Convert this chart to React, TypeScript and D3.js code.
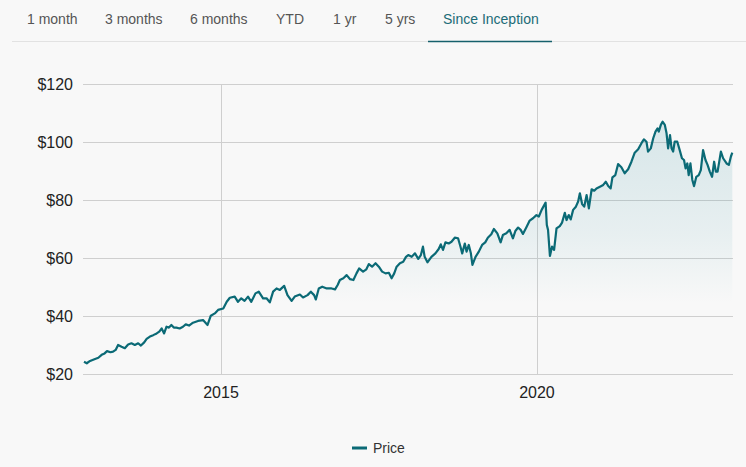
import { useEffect } from 'react'
import * as d3 from 'd3'

const W = 746
const H = 467

const tabs = ['1 month', '3 months', '6 months', 'YTD', '1 yr', '5 yrs', 'Since Inception']
const activeTab = 'Since Inception'

const yTicks = [20, 40, 60, 80, 100, 120]
const seriesName = 'Price'

const dates = [
  '2012-10-31', '2012-11-16', '2012-12-05', '2013-01-03', '2013-01-22', '2013-02-10', '2013-02-27', '2013-03-13',
  '2013-04-02', '2013-04-17', '2013-05-02', '2013-05-16', '2013-06-05', '2013-06-24', '2013-07-13', '2013-08-01',
  '2013-08-21', '2013-09-09', '2013-09-25', '2013-10-14', '2013-10-28', '2013-11-16', '2013-12-05', '2013-12-25',
  '2014-01-09', '2014-01-23', '2014-02-06', '2014-02-20', '2014-03-06', '2014-03-20', '2014-04-03', '2014-04-18',
  '2014-05-07', '2014-05-26', '2014-06-11', '2014-06-30', '2014-07-23', '2014-08-21', '2014-09-19', '2014-10-15',
  '2014-11-03', '2014-11-26', '2014-12-15', '2015-01-14', '2015-02-03', '2015-02-21', '2015-03-21', '2015-04-09',
  '2015-04-28', '2015-05-17', '2015-06-06', '2015-06-25', '2015-07-19', '2015-08-07', '2015-09-01', '2015-09-21',
  '2015-10-10', '2015-10-29', '2015-11-18', '2015-12-07', '2016-01-01', '2016-01-20', '2016-02-13', '2016-03-02',
  '2016-04-01', '2016-04-19', '2016-05-15', '2016-06-03', '2016-06-22', '2016-07-02', '2016-07-19', '2016-08-08',
  '2016-09-03', '2016-10-01', '2016-10-21', '2016-11-05', '2016-11-18', '2016-12-08', '2016-12-27', '2017-01-16',
  '2017-02-04', '2017-02-22', '2017-03-09', '2017-04-01', '2017-04-20', '2017-05-04', '2017-05-23', '2017-06-12',
  '2017-07-01', '2017-07-20', '2017-08-09', '2017-08-28', '2017-09-13', '2017-09-28', '2017-10-12', '2017-10-31',
  '2017-11-19', '2017-12-05', '2017-12-18', '2018-01-07', '2018-01-26', '2018-02-14', '2018-03-01', '2018-03-13',
  '2018-03-23', '2018-04-08', '2018-05-01', '2018-05-24', '2018-06-12', '2018-06-24', '2018-07-07', '2018-07-21',
  '2018-08-09', '2018-08-25', '2018-09-13', '2018-10-02', '2018-10-16', '2018-10-26', '2018-11-10', '2018-11-20',
  '2018-12-03', '2018-12-15', '2018-12-24', '2019-01-11', '2019-01-30', '2019-02-18', '2019-03-08', '2019-03-23',
  '2019-04-12', '2019-04-27', '2019-05-17', '2019-06-05', '2019-06-18', '2019-07-08', '2019-07-27', '2019-08-15',
  '2019-08-29', '2019-09-14', '2019-09-29', '2019-10-12', '2019-11-01', '2019-11-20', '2019-12-09', '2019-12-29',
  '2020-01-12', '2020-01-28', '2020-02-20', '2020-02-27', '2020-03-05', '2020-03-16', '2020-03-28', '2020-04-09',
  '2020-04-23', '2020-05-12', '2020-05-25', '2020-06-10', '2020-06-20', '2020-07-03', '2020-07-14', '2020-07-28',
  '2020-08-13', '2020-08-26', '2020-09-05', '2020-09-18', '2020-09-30', '2020-10-14', '2020-10-27', '2020-11-12',
  '2020-11-27', '2020-12-10', '2020-12-30', '2021-01-18', '2021-02-02', '2021-02-16', '2021-03-02', '2021-03-12',
  '2021-03-29', '2021-04-14', '2021-05-03', '2021-05-22', '2021-06-11', '2021-06-30', '2021-07-19', '2021-08-08',
  '2021-08-27', '2021-09-10', '2021-09-25', '2021-10-04', '2021-10-20', '2021-11-03', '2021-11-16', '2021-11-28',
  '2021-12-05', '2021-12-17', '2021-12-27', '2022-01-09', '2022-01-19', '2022-01-28', '2022-02-08', '2022-02-17',
  '2022-02-26', '2022-03-07', '2022-03-22', '2022-04-05', '2022-04-18', '2022-04-30', '2022-05-09', '2022-05-19',
  '2022-05-27', '2022-06-06', '2022-06-17', '2022-06-27', '2022-07-10', '2022-07-24', '2022-08-05', '2022-08-18',
  '2022-09-01', '2022-09-13', '2022-09-26', '2022-10-09', '2022-10-21', '2022-10-31', '2022-11-10', '2022-11-29',
  '2022-12-12', '2023-01-01', '2023-01-14', '2023-01-26', '2023-02-03',
]

const prices = [
  24.2, 23.7, 24.5, 25.2, 25.6, 26.6, 27.1, 27.9,
  27.5, 27.7, 28.3, 30.0, 29.4, 28.9, 30.2, 30.6,
  30.0, 30.6, 29.8, 30.9, 32.1, 32.9, 33.4, 34.0,
  34.6, 35.7, 34.0, 36.3, 36.0, 36.9, 36.0, 36.0,
  35.7, 36.3, 37.1, 36.7, 37.7, 38.3, 38.6, 36.9,
  40.1, 40.9, 42.1, 42.6, 44.9, 46.3, 46.7, 44.9,
  46.1, 45.2, 46.7, 44.9, 47.8, 48.4, 46.1, 46.1,
  44.7, 48.4, 49.5, 49.0, 50.4, 47.2, 45.2, 46.7,
  47.4, 46.4, 47.2, 48.4, 47.2, 45.7, 49.5, 50.1,
  49.5, 49.5, 49.2, 50.7, 52.4, 53.0, 54.1, 52.7,
  52.4, 54.7, 56.4, 55.3, 56.1, 57.9, 57.0, 58.2,
  57.0, 55.3, 54.7, 54.9, 53.0, 54.7, 57.0, 58.2,
  58.7, 60.4, 61.0, 60.4, 61.6, 59.7, 61.0, 63.9,
  60.4, 58.5, 60.4, 61.6, 63.1, 64.7, 62.8, 65.4,
  65.0, 65.6, 67.0, 66.8, 63.9, 61.6, 65.0, 62.2,
  64.5, 61.6, 57.6, 60.4, 62.2, 64.5, 65.4, 67.0,
  68.2, 70.0, 68.5, 65.4, 67.9, 68.5, 69.7, 66.8,
  69.3, 70.5, 69.7, 68.3, 70.6, 72.9, 73.7, 74.8,
  74.3, 76.6, 79.1, 71.4, 69.7, 60.7, 63.9, 62.8,
  70.2, 71.0, 72.2, 75.6, 73.1, 74.8, 73.3, 76.6,
  77.7, 79.5, 82.3, 78.6, 77.7, 81.7, 77.1, 83.7,
  83.2, 84.0, 84.6, 85.2, 86.3, 84.8, 84.0, 87.8,
  88.6, 92.4, 91.3, 89.2, 90.6, 93.2, 96.3, 97.5,
  99.6, 100.9, 100.1, 96.7, 97.8, 101.3, 103.6, 104.7,
  103.6, 105.9, 107.0, 105.9, 103.0, 97.8, 102.4, 97.8,
  96.7, 100.1, 100.1, 97.2, 94.4, 93.8, 90.9, 92.6,
  88.6, 92.6, 86.9, 84.8, 88.0, 88.6, 90.3, 97.2,
  93.8, 92.1, 89.8, 88.0, 93.2, 89.8, 89.8, 96.7,
  94.4, 92.6, 92.1, 95.0, 96.3,
]

const TEAL = '#0b6a76'
const FONT = '"Liberation Sans", Arial, Helvetica, sans-serif'

// measured tab label left edges
const tabX = [27, 105, 190, 276, 333, 385, 443]

export default function App() {
  useEffect(() => {
    document.body.style.margin = '0'
  }, [])

  const parse = d3.timeParse('%Y-%m-%d')
  const data = dates.map((d, i) => ({ date: parse(d) as Date, value: prices[i] }))

  const plotL = 83
  const plotR = 733
  const plotT = 84
  const plotB = 374

  const x = d3.scaleTime()
    .domain(d3.extent(data, d => d.date) as [Date, Date])
    .range([84, 732.3])

  const y = d3.scaleLinear().domain([20, 120]).range([plotB, plotT])

  const line = d3.line<{ date: Date; value: number }>()
    .x(d => x(d.date))
    .y(d => y(d.value))

  const area = d3.area<{ date: Date; value: number }>()
    .x(d => x(d.date))
    .y0(plotB)
    .y1(d => y(d.value))

  const xTicks = x.ticks(d3.timeYear.every(5) as d3.TimeInterval)

  return (
    <div style={{ position: 'fixed', left: 0, top: 0, width: W, height: H, background: '#f8f8f8' }}>
      <svg width={W} height={H} style={{ display: 'block', fontFamily: FONT }}>
        <defs>
          <linearGradient id="fillGrad" gradientUnits="userSpaceOnUse" x1={0} y1={y(107)} x2={0} y2={plotB}>
            <stop offset="0" stopColor="#2a8a9a" stopOpacity={0.16} />
            <stop offset="0.45" stopColor="#2a8a9a" stopOpacity={0.08} />
            <stop offset="0.72" stopColor="#2a8a9a" stopOpacity={0} />
          </linearGradient>
        </defs>

        {/* tabs */}
        <line x1={12} x2={W} y1={41.5} y2={41.5} stroke="#e2e2e2" strokeWidth={1} />
        {tabs.map((t, i) => (
          <text key={t} x={tabX[i]} y={24} fontSize={14}
            fill={t === activeTab ? '#1c6b77' : '#555'}>
            {t}
          </text>
        ))}
        <line x1={428} x2={552} y1={41.5} y2={41.5} stroke="#16606c" strokeWidth={1.6} />

        {/* grid */}
        {yTicks.map(v => (
          <line key={v} x1={plotL} x2={plotR} y1={Math.round(y(v)) + 0.5} y2={Math.round(y(v)) + 0.5}
            stroke="#cfcfcf" strokeWidth={1} />
        ))}
        {xTicks.map(d => (
          <line key={+d} x1={Math.round(x(d)) + 0.5} x2={Math.round(x(d)) + 0.5} y1={plotT} y2={plotB + 1}
            stroke="#cfcfcf" strokeWidth={1} />
        ))}

        {/* area + line */}
        <path d={area(data) ?? ''} fill="url(#fillGrad)" />
        <path d={line(data) ?? ''} fill="none" stroke={TEAL} strokeWidth={2.2} strokeLinejoin="round" />

        {/* axis labels */}
        {yTicks.map(v => (
          <text key={v} x={73} y={y(v) + 5.5} textAnchor="end" fontSize={16} fill="#222">
            {'$' + v}
          </text>
        ))}
        {xTicks.map(d => (
          <text key={+d} x={x(d)} y={398} textAnchor="middle" fontSize={16} fill="#222">
            {d3.timeFormat('%Y')(d)}
          </text>
        ))}

        {/* legend */}
        <line x1={352} x2={367} y1={448} y2={448} stroke={TEAL} strokeWidth={3} />
        <text x={373} y={453} fontSize={14} fill="#333">{seriesName}</text>
      </svg>
    </div>
  )
}
